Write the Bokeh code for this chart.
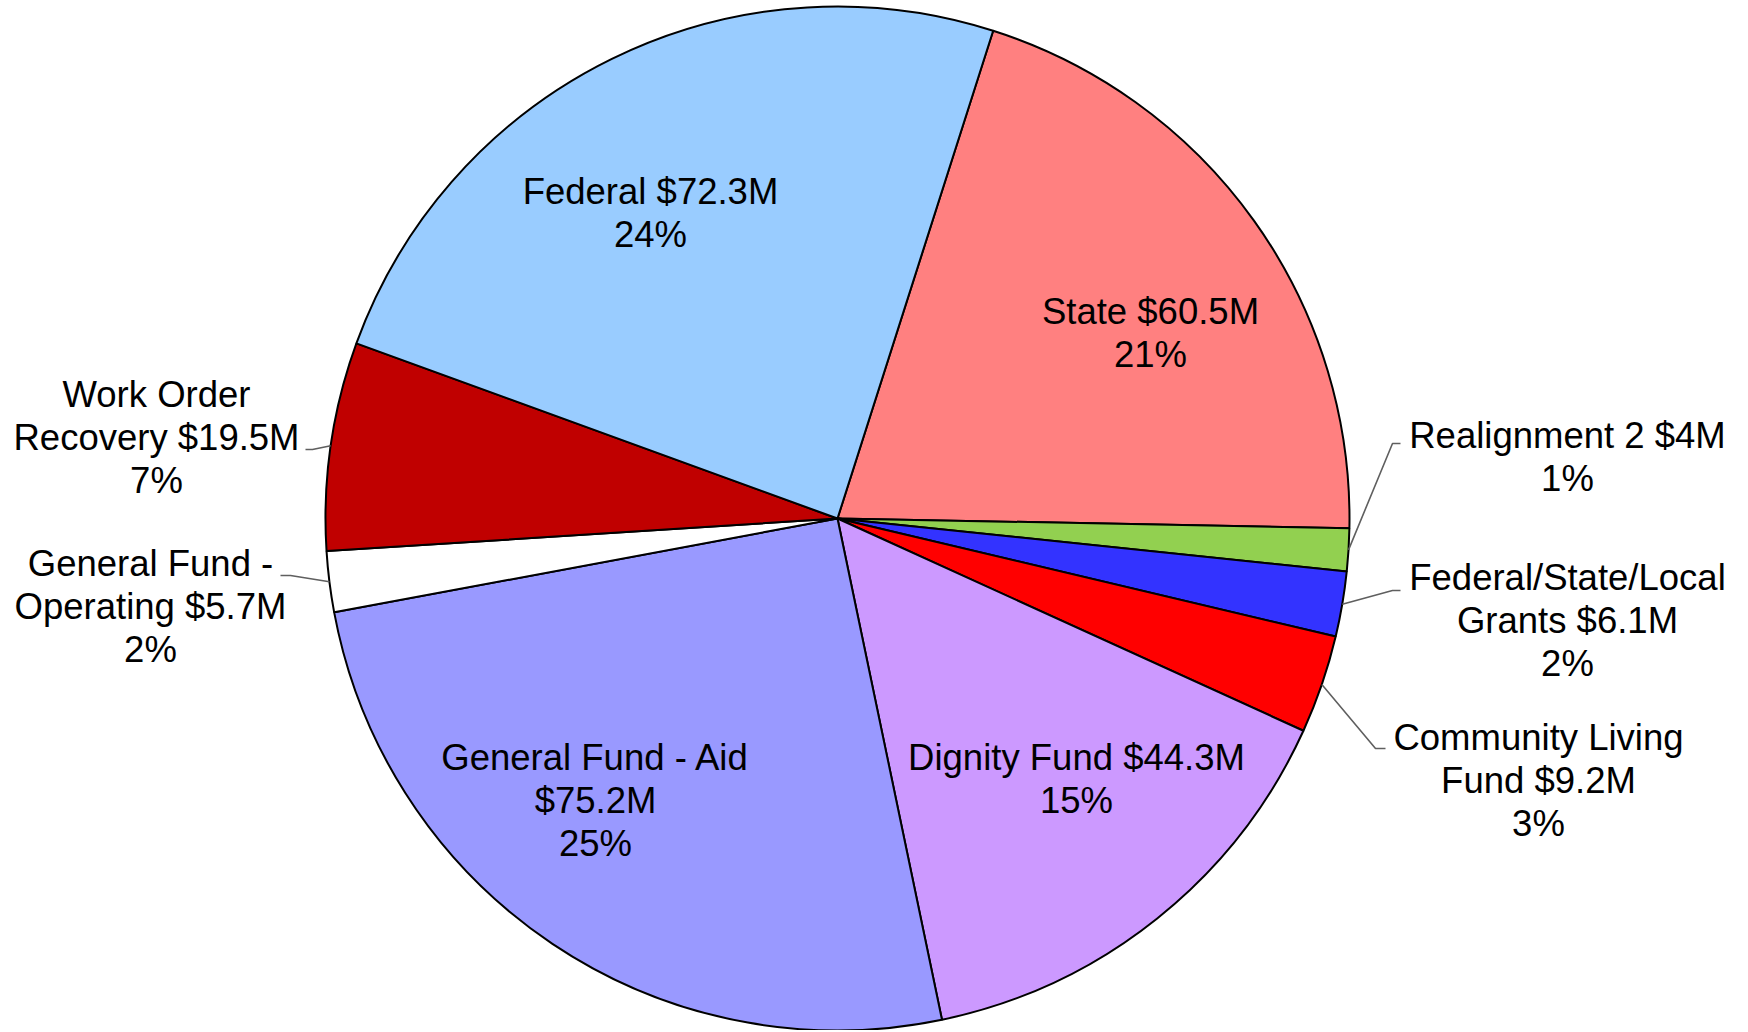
import numpy as np
from bokeh.plotting import figure
from bokeh.models import ColumnDataSource, Range1d
from bokeh.core.properties import value
from bokeh.embed import file_html
from bokeh.resources import INLINE

# ---------------- data ----------------
names = ["State", "Realignment 2", "Federal/State/Local Grants", "Community Living Fund",
         "Dignity Fund", "General Fund - Aid", "General Fund - Operating",
         "Work Order Recovery", "Federal"]
amounts = [60.5, 4, 6.1, 9.2, 44.3, 75.2, 5.7, 19.5, 72.3]
pct_labels = ["21%", "1%", "2%", "3%", "15%", "25%", "2%", "7%", "24%"]
colors = ["#FF8080", "#92D050", "#3333FF", "#FF0000", "#CC99FF",
          "#9999FF", "#FFFFFF", "#C00000", "#99CCFF"]

# ---------------- layout ----------------
W, H = 1732, 1030
CX, CY, R = 837, 518, 512          # page pixel coords
START_CW = 17.7                     # degrees clockwise from 12 o'clock
LINE_GAP = 43
FONT = "Liberation Sans"
FSIZE = "36.5px"
wrap = [[2], [3], [1, 2], [2, 2], [3], [4, 1], [3, 2], [2, 2], [2]]
label_pos = [(1150, 311), (1567, 435), (1567, 577), (1538, 737), (1076, 757),
             (595, 757), (150, 563), (156, 394), (650, 191)]
leaders = {1: [(1392, 443), (1400, 443)],
           2: [(1392, 590), (1400, 590)],
           3: [(1375, 748), (1385, 748)],
           6: [(290, 575), (280, 575)],
           7: [(312, 449), (305, 449)]}


def py(y):
    return 1032 - y


total = float(sum(amounts))
cw = np.concatenate([[0.0], np.cumsum(amounts)]) / total * 360.0 + START_CW
start = np.radians(90.0 - cw[:-1])
end = np.radians(90.0 - cw[1:])
mid_cw = (cw[:-1] + cw[1:]) / 2.0

p = figure(width=W, height=H, output_backend="svg", toolbar_location=None,
           x_range=Range1d(0, W), y_range=Range1d(1032 - H, 1032),
           x_axis_type=None, y_axis_type=None, min_border=0,
           background_fill_color="white", border_fill_color="white")
p.grid.visible = False
p.outline_line_color = None

src = ColumnDataSource(dict(start=start, end=end, color=colors, name=names,
                            amount=amounts))
p.wedge(x=CX, y=py(CY), radius=R, start_angle="start", end_angle="end",
        direction="clock", fill_color="color", line_color="black",
        line_width=2, source=src)

# leader lines
xs, ys = [], []
for i, pts in leaders.items():
    a = np.radians(mid_cw[i])
    x0 = CX + R * np.sin(a)
    y0 = CY - R * np.cos(a)
    lx = [x0] + [q[0] for q in pts]
    ly = [py(y0)] + [py(q[1]) for q in pts]
    xs.append(lx)
    ys.append(ly)
p.multi_line(xs=xs, ys=ys, line_color="#5F5F5F", line_width=1.6)

# labels
tx, ty, tt = [], [], []
for i, nm in enumerate(names):
    words = f"{nm} ${amounts[i]:g}M".split(" ")
    lines, k = [], 0
    for n in wrap[i]:
        lines.append(" ".join(words[k:k + n]))
        k += n
    lines.append(pct_labels[i])
    x0, y0 = label_pos[i]
    for j, ln in enumerate(lines):
        tx.append(x0)
        ty.append(py(y0 + j * LINE_GAP))
        tt.append(ln)

p.text(x=tx, y=ty, text=tt, text_font=value(FONT), text_font_size=FSIZE,
       text_align="center", text_baseline="middle", text_color="black")

open("out.html", "w").write(file_html(p, INLINE))
